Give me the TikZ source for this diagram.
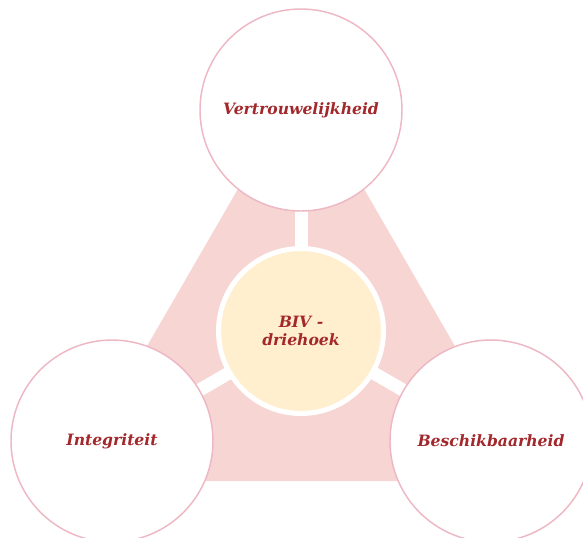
\documentclass[tikz,border=0pt]{standalone}
\usepackage{fontspec}
\setmainfont{DejaVu Serif}
\usetikzlibrary{backgrounds}

\definecolor{ringpink}{RGB}{237,184,196}
\definecolor{trifill}{RGB}{247,213,211}
\definecolor{corefill}{RGB}{255,239,206}
\definecolor{labelred}{RGB}{163,40,44}

\tikzset{
  topic/.style={circle,draw=ringpink,line width=1.1pt,fill=white,minimum size=151.5pt,inner sep=0pt,
    text=labelred,font=\fontsize{11.7}{14}\selectfont\bfseries\itshape},
  core/.style={circle,draw=white,line width=3.75pt,fill=corefill,minimum size=123.75pt,inner sep=0pt,
    text=labelred,align=center,font=\fontsize{11.7}{14}\selectfont\bfseries\itshape},
  spoke/.style={draw=white,line width=9.75pt}
}

\begin{document}
\begin{tikzpicture}[x=0.75pt,y=0.75pt,yscale=-1,xscale=1]
\useasboundingbox (0,0) rectangle (583,537);
\clip (0,0) rectangle (583,537);

% Centre
\node [core] (biv) at (301,331) {BIV -\\driehoek};
% Outer circles
\node [topic] (vert) at (301,110) {Vertrouwelijkheid};
\node [topic] (integ) at (112,441) {Integriteit};
\node [topic] (besch) at (491,441) {Beschikbaarheid};

\begin{pgfonlayer}{background}
% Triangle
\fill [trifill] (301,80) -- (533,481) -- (69,481) -- cycle;
% Spokes
\draw [spoke] (biv.center) -- (vert.center);
\draw [spoke] (biv.center) -- (integ.center);
\draw [spoke] (biv.center) -- (besch.center);
\end{pgfonlayer}

\end{tikzpicture}
\end{document}
